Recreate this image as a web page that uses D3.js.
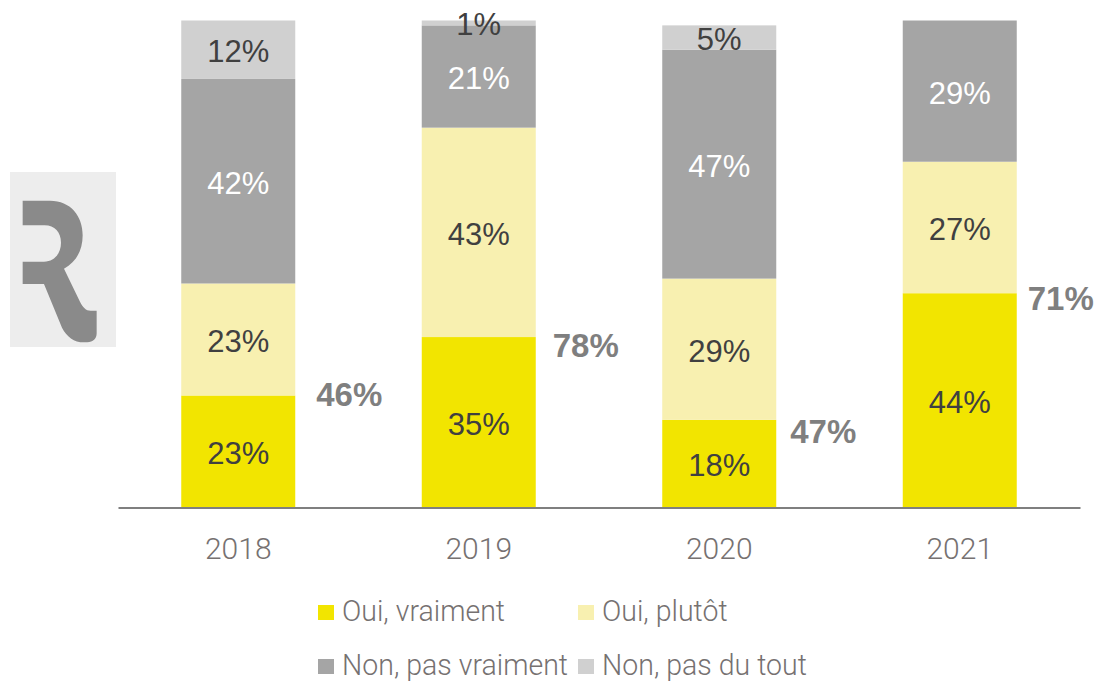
<!DOCTYPE html>
<html>
<head>
<meta charset="utf-8">
<script src="https://cdn.jsdelivr.net/npm/d3@7"></script>
<style>
  html, body { margin: 0; padding: 0; background: #ffffff; }
  svg { display: block; }
</style>
</head>
<body>
<svg id="chart" width="1101" height="681"></svg>
<script>
// Survey answers by year (percent of respondents)
const years = ["2018", "2019", "2020", "2021"];
const seriesNames = ["Oui, vraiment", "Oui, plutôt", "Non, pas vraiment", "Non, pas du tout"];
const ouiVraiment = [23, 35, 18, 44];
const ouiPlutot = [23, 43, 29, 27];
const nonPasVraiment = [42, 21, 47, 29];
const nonPasDuTout = [12, 1, 5, 0];

// Layout and style
const colors = ["#f2e500", "#f8f0b0", "#a5a5a5", "#d0d0d0"];
const labelColors = ["#404040", "#404040", "#ffffff", "#404040"];
const totalLabelDx = [111, 107, 104, 101];
const totalLabelDy = [-1, 8, 11, 5];

const svg = d3.select("#chart");
const baseY = 507.5;

const rows = years.map((y, i) => ({
  year: y,
  "Oui, vraiment": ouiVraiment[i],
  "Oui, plutôt": ouiPlutot[i],
  "Non, pas vraiment": nonPasVraiment[i],
  "Non, pas du tout": nonPasDuTout[i]
}));

const x = d3.scaleBand().domain(years).range([118, 1080])
  .paddingInner(0.526).paddingOuter(0.263);
const y = d3.scaleLinear().domain([0, 100]).range([baseY, baseY - 487]);
const color = d3.scaleOrdinal().domain(seriesNames).range(colors);

const stacked = d3.stack().keys(seriesNames)(rows);

// Logo block on the left
const logo = svg.append("g");
logo.append("rect").attr("x", 10).attr("y", 172).attr("width", 106).attr("height", 175)
  .attr("fill", "#ededed");
logo.append("path")
  .attr("transform", "translate(0,160) scale(0.3333)")
  .attr("fill", "#8a8a8a")
  .attr("d", "M68,122 L150,122 C212,122 248,168 248,226 C248,272 228,306 192,326 L240,425 C248,442 258,452 272,452 L290,452 L290,520 C290,536 279,547 262,547 L252,547 C222,547 200,530 186,503 L132,372 L68,372 L68,305 L132,305 C165,305 183,278 183,248 C183,216 164,196 134,196 L68,196 Z");

// Stacked bars
const layers = svg.append("g").selectAll("g").data(stacked).join("g")
  .attr("fill", d => color(d.key));
layers.selectAll("rect").data(d => d.filter(s => s[1] - s[0] > 0)).join("rect")
  .attr("x", d => x(d.data.year))
  .attr("width", x.bandwidth())
  .attr("y", d => y(d[1]))
  .attr("height", d => y(d[0]) - y(d[1]));

// Segment value labels
stacked.forEach((layer, li) => {
  svg.append("g").selectAll("text").data(layer.filter(s => s[1] - s[0] > 0)).join("text")
    .attr("x", d => x(d.data.year) + x.bandwidth() / 2)
    .attr("y", d => (y(d[0]) + y(d[1])) / 2)
    .attr("dy", "0.4em")
    .attr("text-anchor", "middle")
    .attr("font-family", "'Liberation Sans', Arial, sans-serif")
    .attr("font-size", 31)
    .attr("fill", labelColors[li])
    .text(d => (d[1] - d[0]) + "%");
});

// Totals of positive answers
svg.append("g").selectAll("text").data(years).join("text")
  .attr("x", (d, i) => x(d) + x.bandwidth() / 2 + totalLabelDx[i])
  .attr("y", (d, i) => y(ouiVraiment[i]) + totalLabelDy[i])
  .attr("dy", "0.36em")
  .attr("text-anchor", "middle")
  .attr("font-family", "'Liberation Sans', Arial, sans-serif")
  .attr("font-weight", "bold")
  .attr("font-size", 33)
  .attr("fill", "#7f7f7f")
  .text((d, i) => (ouiVraiment[i] + ouiPlutot[i]) + "%");

// Category axis
const axis = svg.append("g").attr("transform", `translate(0,${baseY})`)
  .call(d3.axisBottom(x).tickSize(0).tickPadding(0));
axis.select(".domain").attr("stroke", "#7f7f7f").attr("stroke-width", 2);
axis.selectAll("text")
  .attr("y", 51).attr("dy", 0)
  .attr("font-family", "Roboto, sans-serif")
  .attr("font-weight", 300)
  .attr("font-size", 30)
  .attr("fill", "#767171");

// Legend
const legendPos = [[318, 621], [578, 621], [318, 675], [578, 675]];
const legend = svg.append("g").selectAll("g").data(seriesNames).join("g")
  .attr("transform", (d, i) => `translate(${legendPos[i][0]},${legendPos[i][1]})`);
legend.append("rect").attr("x", 0).attr("y", -16).attr("width", 16).attr("height", 15)
  .attr("fill", d => color(d));
legend.append("text")
  .attr("transform", "translate(24,0) scale(0.95,1)")
  .attr("font-family", "Roboto, sans-serif")
  .attr("font-weight", 300)
  .attr("font-size", 30)
  .attr("fill", "#767171")
  .text(d => d);
</script>
</body>
</html>
